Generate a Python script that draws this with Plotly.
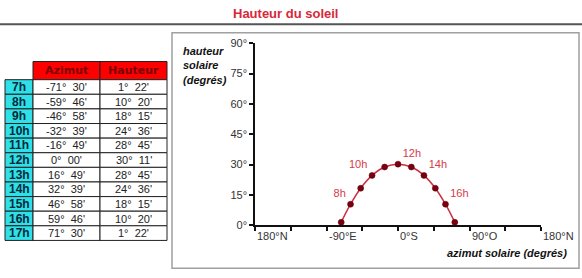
import plotly.graph_objects as go

# ---- data ----
hours = ['7h', '8h', '9h', '10h', '11h', '12h', '13h', '14h', '15h', '16h', '17h']
az_sign = [-1, -1, -1, -1, -1, 1, 1, 1, 1, 1, 1]
az_deg = [71, 59, 46, 32, 16, 0, 16, 32, 46, 59, 71]
az_min = [30, 46, 58, 39, 49, 0, 49, 39, 58, 46, 30]
h_deg = [1, 10, 18, 24, 28, 30, 28, 24, 18, 10, 1]
h_min = [22, 20, 15, 36, 45, 11, 45, 36, 15, 20, 22]
col_headers = ['Azimut', 'Hauteur']
point_labels = ['', '8h', '', '10h', '', '12h', '', '14h', '', '16h', '']
label_pos = ['top left'] * 5 + ['top right'] * 6

x_tickvals = [-180, -135, -90, -45, 0, 45, 90, 135, 180]
x_labelvals = [-180, -90, 0, 90, 180]
x_labeltext = ['180°N', '-90°E', '0°S', '90°O', '180°N']
y_tickvals = [0, 15, 30, 45, 60, 75, 90]
y_ticktext = ['0°', '15°', '30°', '45°', '60°', '75°', '90°']

az = [s * (d + m / 60) for s, d, m in zip(az_sign, az_deg, az_min)]
hv = [d + m / 60 for d, m in zip(h_deg, h_min)]

NB = '\u00a0'
def fmt(s, d, m):
    sign = '-' if s < 0 and (d or m) else ''
    return f"{sign}{d}°{NB}{NB}{m:02d}'"

az_txt = [fmt(s, d, m) for s, d, m in zip(az_sign, az_deg, az_min)]
h_txt = [fmt(1, d, m) for d, m in zip(h_deg, h_min)]

W, H = 582, 278
FONT = 'Liberation Sans, Arial, sans-serif'

def px(x):
    return x / W

def py(y):
    return 1 - y / H

fig = go.Figure()

# ---- sun path ----
fig.add_trace(go.Scatter(
    x=az, y=hv, mode='lines+markers+text',
    line=dict(color='#cc3040', width=1.5, shape='spline'),
    marker=dict(color='#7a0010', size=6, line=dict(color='#5a0008', width=0.5)),
    text=point_labels, textposition=label_pos,
    textfont=dict(family=FONT, size=11, color='#d63a48'),
    cliponaxis=False, showlegend=False, hoverinfo='skip'))

fig.update_xaxes(
    domain=[255 / W, 541 / W], range=[-180, 180],
    tickvals=x_tickvals, showticklabels=False,
    ticks='outside', ticklen=4, tickcolor='#111', tickwidth=1.5,
    showline=True, linecolor='#111', linewidth=1.5,
    showgrid=False, zeroline=False, fixedrange=True)
fig.update_yaxes(
    domain=[1 - 229 / H, 1 - 39 / H], range=[0, 90],
    tickvals=y_tickvals, ticktext=y_ticktext,
    ticks='outside', ticklen=4, tickcolor='#111', tickwidth=1.5,
    showline=True, linecolor='#111', linewidth=1.5,
    tickfont=dict(family=FONT, size=11, color='#333'),
    showgrid=False, zeroline=False, fixedrange=True)

annotations = []
shapes = []

# ---- table (cells drawn as shapes, text as annotations) ----
col_x = [5, 33, 100, 167]
head_y0, head_y1 = 58, 77
row_h = (245 - 77) / len(hours)
GRID = '#222222'

for j, name in enumerate(col_headers):
    x0, x1 = col_x[j + 1], col_x[j + 2]
    shapes.append(dict(type='rect', xref='paper', yref='paper', x0=px(x0), x1=px(x1),
                       y0=py(head_y1), y1=py(head_y0), fillcolor='#ff0000',
                       line=dict(color=GRID, width=1), layer='below'))
    annotations.append(dict(x=px((x0 + x1) / 2), y=py((head_y0 + head_y1) / 2),
                            xref='paper', yref='paper', text=name,
                            showarrow=False, xanchor='center', yanchor='middle',
                            font=dict(family='Arial Black, DejaVu Sans, sans-serif',
                                      size=11, weight='bold', color='#7a0000')))

for i, (hr, a, h) in enumerate(zip(hours, az_txt, h_txt)):
    y0 = 77 + i * row_h
    y1 = y0 + row_h
    for j, (txt, fill) in enumerate([(f'<b>{hr}</b>', '#2fe0e8'), (a, 'white'), (h, 'white')]):
        x0, x1 = col_x[j], col_x[j + 1]
        shapes.append(dict(type='rect', xref='paper', yref='paper', x0=px(x0), x1=px(x1),
                           y0=py(y1), y1=py(y0), fillcolor=fill,
                           line=dict(color=GRID, width=1), layer='below'))
        annotations.append(dict(x=px((x0 + x1) / 2), y=py((y0 + y1) / 2),
                                xref='paper', yref='paper', text=txt,
                                showarrow=False, xanchor='center', yanchor='middle',
                                font=dict(family=FONT, size=12 if j == 0 else 11,
                                          color='#002a3a' if j == 0 else '#222222')))

for v, t in zip(x_labelvals, x_labeltext):
    annotations.append(dict(x=v, y=py(232), xref='x', yref='paper', text=t,
                            xanchor='left', yanchor='top', showarrow=False,
                            font=dict(family=FONT, size=11, color='#333')))
annotations += [
    dict(x=0.49, y=py(8), xref='paper', yref='paper', text='<b>Hauteur du soleil</b>',
         xanchor='center', yanchor='middle', showarrow=False,
         font=dict(family=FONT, size=13, color='#d8283a')),
    dict(x=px(181), y=py(62), xref='paper', yref='paper',
         text='<b><i>hauteur<br>solaire<br>(degrés)</i></b>', align='left',
         xanchor='left', yanchor='middle', showarrow=False,
         font=dict(family=FONT, size=11, color='#111')),
    dict(x=px(569), y=py(258), xref='paper', yref='paper',
         text='<b><i>azimut solaire (degrés)</i></b>',
         xanchor='right', yanchor='middle', showarrow=False,
         font=dict(family=FONT, size=11, color='#111')),
]

shapes += [
    dict(type='line', xref='paper', yref='paper', x0=0, x1=1, y0=py(19), y1=py(19),
         line=dict(color='#555', width=2)),
    dict(type='rect', xref='paper', yref='paper', x0=px(172), x1=px(579),
         y0=py(274), y1=py(28), line=dict(color='#a0a0a0', width=1.5)),
]

fig.update_layout(
    width=W, height=H, margin=dict(l=0, r=0, t=0, b=0),
    paper_bgcolor='white', plot_bgcolor='rgba(0,0,0,0)',
    annotations=annotations, shapes=shapes, showlegend=False)

fig.write_html('out.html', config={'displayModeBar': False})
